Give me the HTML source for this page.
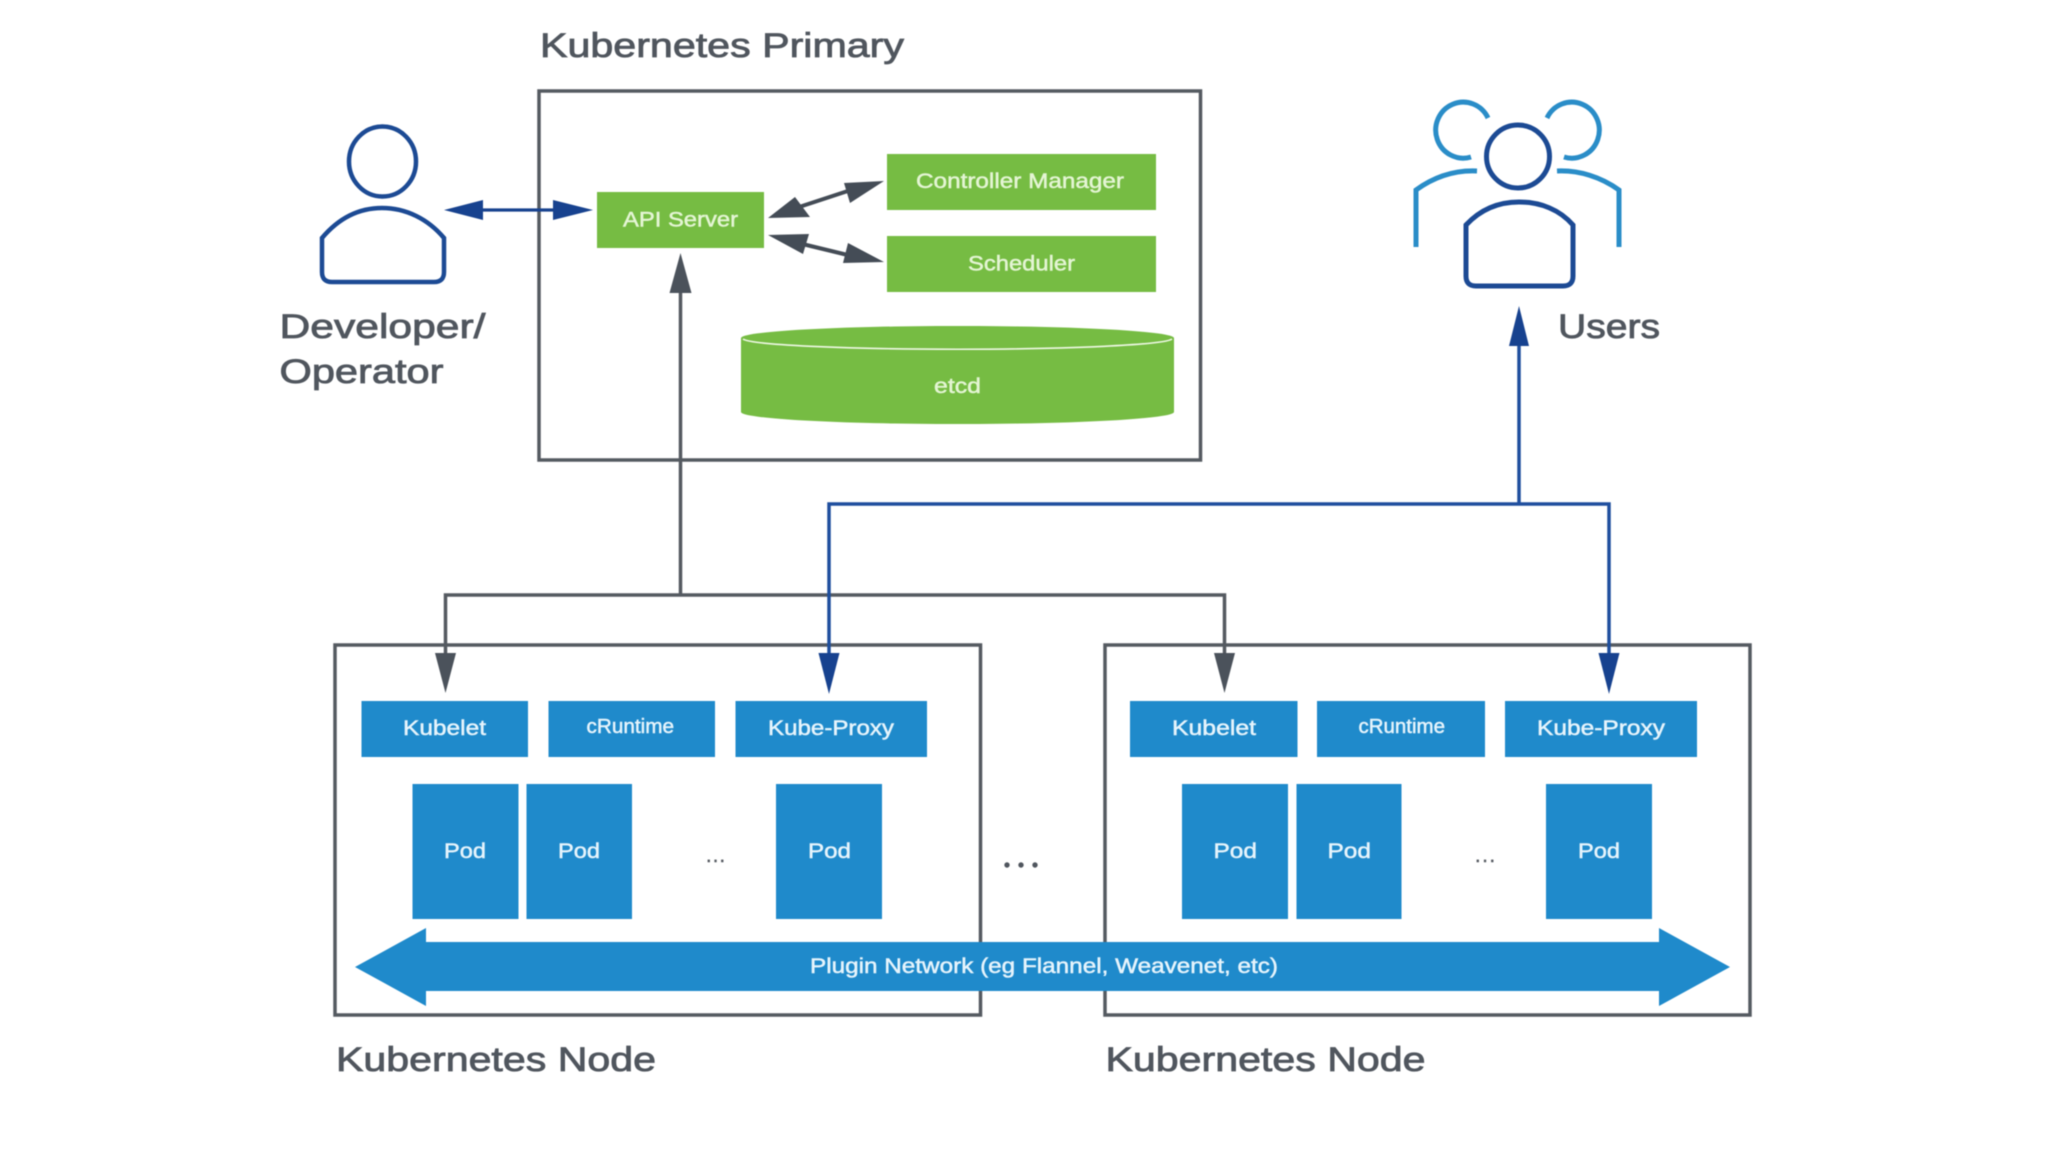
<!DOCTYPE html>
<html>
<head>
<meta charset="utf-8">
<title>Kubernetes Architecture</title>
<style>
html,body{margin:0;padding:0;background:#fff;width:2048px;height:1152px;overflow:hidden}
svg{display:block;filter:blur(0.6px)}
text{font-family:"Liberation Sans",sans-serif}
.h{font-size:34px;fill:#50565e;stroke:#50565e;stroke-width:.8px}
.g{font-size:21.500px;fill:#e4f5d4;stroke:#e4f5d4;stroke-width:.5px}
.b{font-size:21.500px;fill:#e6f4fc;stroke:#e6f4fc;stroke-width:.5px}
</style>
</head>
<body>
<svg width="2048" height="1152" viewBox="0 0 2048 1152" xmlns="http://www.w3.org/2000/svg">
<rect width="2048" height="1152" fill="#fff"/>

<!-- Frames -->
<g fill="none" stroke="#555a61" stroke-width="3.5">
<rect x="539" y="91" width="661.500" height="369"/>
<rect x="335" y="645" width="645.500" height="370"/>
<rect x="1105" y="645" width="645" height="370"/>
</g>

<!-- Headings -->
<text class="h" x="540" y="57" textLength="364" lengthAdjust="spacingAndGlyphs">Kubernetes Primary</text>
<text class="h" x="279.500" y="338" textLength="206" lengthAdjust="spacingAndGlyphs">Developer/</text>
<text class="h" x="279.500" y="383" textLength="164" lengthAdjust="spacingAndGlyphs">Operator</text>
<text class="h" x="1558" y="338" textLength="102" lengthAdjust="spacingAndGlyphs">Users</text>
<text class="h" x="336" y="1071" textLength="320" lengthAdjust="spacingAndGlyphs">Kubernetes Node</text>
<text class="h" x="1105.500" y="1071" textLength="320" lengthAdjust="spacingAndGlyphs">Kubernetes Node</text>

<!-- Green components -->
<g fill="#76bc43">
<rect x="597" y="192" width="167" height="56"/>
<rect x="887" y="154" width="269" height="56"/>
<rect x="887" y="236" width="269" height="56"/>
<path d="M741 338 A216.500 12 0 0 1 1174 338 V412 A216.500 12 0 0 1 741 412 Z"/>
</g>
<path d="M743 339 A215 11 0 0 0 1172 339" fill="none" stroke="#eef8e4" stroke-width="1.6"/>
<text class="g" x="623" y="226.500" textLength="115" lengthAdjust="spacingAndGlyphs">API Server</text>
<text class="g" x="916" y="188" textLength="208" lengthAdjust="spacingAndGlyphs">Controller Manager</text>
<text class="g" x="968" y="270.500" textLength="107" lengthAdjust="spacingAndGlyphs">Scheduler</text>
<text class="g" x="934" y="393" textLength="47" lengthAdjust="spacingAndGlyphs">etcd</text>

<!-- Gray arrows inside primary -->
<g stroke="#444c56" stroke-width="4" fill="none">
<path d="M790 210 L860 187"/>
<path d="M790 241 L860 258"/>
</g>
<g fill="#444c56">
<polygon points="768,218 795,197 810,217"/>
<polygon points="884,181 844,183 850,203"/>
<polygon points="768,235 809,234 803,254"/>
<polygon points="884,262 848,243 843,263"/>
</g>

<!-- Gray connector tree -->
<path d="M445.500 660 V595 H1224.500 V660 M680.500 595 V285" fill="none" stroke="#555a61" stroke-width="3.5"/>
<g fill="#4b525b">
<polygon points="680.500,253 669.500,293 691.500,293"/>
<polygon points="445.500,693 435,653 456,653"/>
<polygon points="1224.500,693 1214,653 1235,653"/>
</g>

<!-- Blue connector tree -->
<path d="M829 660 V504 H1609 V660 M1519 504 V340" fill="none" stroke="#1f4f9e" stroke-width="3.500"/>
<g fill="#17428f">
<polygon points="1519,306 1509,346 1529,346"/>
<polygon points="829,694 818.500,653 839.500,653"/>
<polygon points="1609,694 1598.500,653 1619.500,653"/>
</g>

<!-- Developer double arrow -->
<path d="M475 210 H560" stroke="#17428f" stroke-width="3.2" fill="none"/>
<polygon points="444,210 483,200 483,220" fill="#17428f"/>
<polygon points="593,210 553,200 553,220" fill="#17428f"/>

<!-- Developer icon -->
<g fill="none" stroke="#1c4a94" stroke-width="4.500">
<ellipse cx="382.500" cy="161.500" rx="33.500" ry="35"/>
<path d="M322 238 C338 219 358 208 382 208 C406 208 428 219 444 238 V272 Q444 282 434 282 H332 Q322 282 322 272 Z"/>
</g>

<!-- Users icon -->
<g fill="none" stroke="#2a8dc8" stroke-width="5">
<path d="M1488 118 A27.500 28 0 1 0 1471 157"/>
<path d="M1547 118 A27.500 28 0 1 1 1564 157"/>
<path d="M1477 171 C1455 170 1434 177 1416 190 V247"/>
<path d="M1557 171 C1579 170 1601 177 1619 190 V247"/>
</g>
<g fill="none" stroke="#1c4a94" stroke-width="5">
<circle cx="1518" cy="156.500" r="31.500"/>
<path d="M1466 225 C1480 210 1498 202 1519 202 C1541 202 1560 210 1573 225 V276 Q1573 286 1563 286 H1476 Q1466 286 1466 276 Z"/>
</g>

<!-- Node components -->
<g fill="#1f8acb">
<rect x="361.500" y="701" width="166.500" height="56"/>
<rect x="548.500" y="701" width="166.500" height="56"/>
<rect x="735.500" y="701" width="191.500" height="56"/>
<rect x="412.500" y="784" width="106" height="135"/>
<rect x="526.500" y="784" width="105.500" height="135"/>
<rect x="776" y="784" width="106" height="135"/>
<rect x="1130" y="701" width="167.500" height="56"/>
<rect x="1317" y="701" width="168" height="56"/>
<rect x="1505" y="701" width="192" height="56"/>
<rect x="1182" y="784" width="106" height="135"/>
<rect x="1296.500" y="784" width="105" height="135"/>
<rect x="1546" y="784" width="106" height="135"/>
</g>

<text class="b" x="403" y="735" textLength="83" lengthAdjust="spacingAndGlyphs">Kubelet</text>
<text class="b" x="586.500" y="733" textLength="87.500" lengthAdjust="spacingAndGlyphs" style="font-size:20px">cRuntime</text>
<text class="b" x="768" y="735" textLength="126" lengthAdjust="spacingAndGlyphs">Kube-Proxy</text>
<text class="b" x="444" y="858" textLength="42" lengthAdjust="spacingAndGlyphs">Pod</text>
<text class="b" x="558" y="858" textLength="42" lengthAdjust="spacingAndGlyphs">Pod</text>
<text class="b" x="808" y="858" textLength="43" lengthAdjust="spacingAndGlyphs">Pod</text>
<text x="706" y="862" textLength="19" lengthAdjust="spacing" style="font-size:20px;fill:#555a61;stroke:#555a61;stroke-width:.4px">...</text>

<text class="b" x="1172" y="735" textLength="84" lengthAdjust="spacingAndGlyphs">Kubelet</text>
<text class="b" x="1358.500" y="733" textLength="86.500" lengthAdjust="spacingAndGlyphs" style="font-size:20px">cRuntime</text>
<text class="b" x="1537" y="735" textLength="128" lengthAdjust="spacingAndGlyphs">Kube-Proxy</text>
<text class="b" x="1213.500" y="858" textLength="43.500" lengthAdjust="spacingAndGlyphs">Pod</text>
<text class="b" x="1327.500" y="858" textLength="43.500" lengthAdjust="spacingAndGlyphs">Pod</text>
<text class="b" x="1578" y="858" textLength="42" lengthAdjust="spacingAndGlyphs">Pod</text>
<text x="1475" y="862" textLength="20" lengthAdjust="spacing" style="font-size:20px;fill:#555a61;stroke:#555a61;stroke-width:.4px">...</text>

<!-- Middle dots -->
<g fill="#50565e">
<circle cx="1007" cy="865" r="2.700"/>
<circle cx="1021" cy="865" r="2.700"/>
<circle cx="1035" cy="865" r="2.700"/>
</g>

<!-- Plugin network arrow -->
<polygon points="355,967 426,928 426,942 1659,942 1659,928 1730,967 1659,1006 1659,991 426,991 426,1006" fill="#1f8acb"/>
<text class="b" x="810" y="973" textLength="468" lengthAdjust="spacingAndGlyphs">Plugin Network (eg Flannel, Weavenet, etc)</text>
</svg>
</body>
</html>
